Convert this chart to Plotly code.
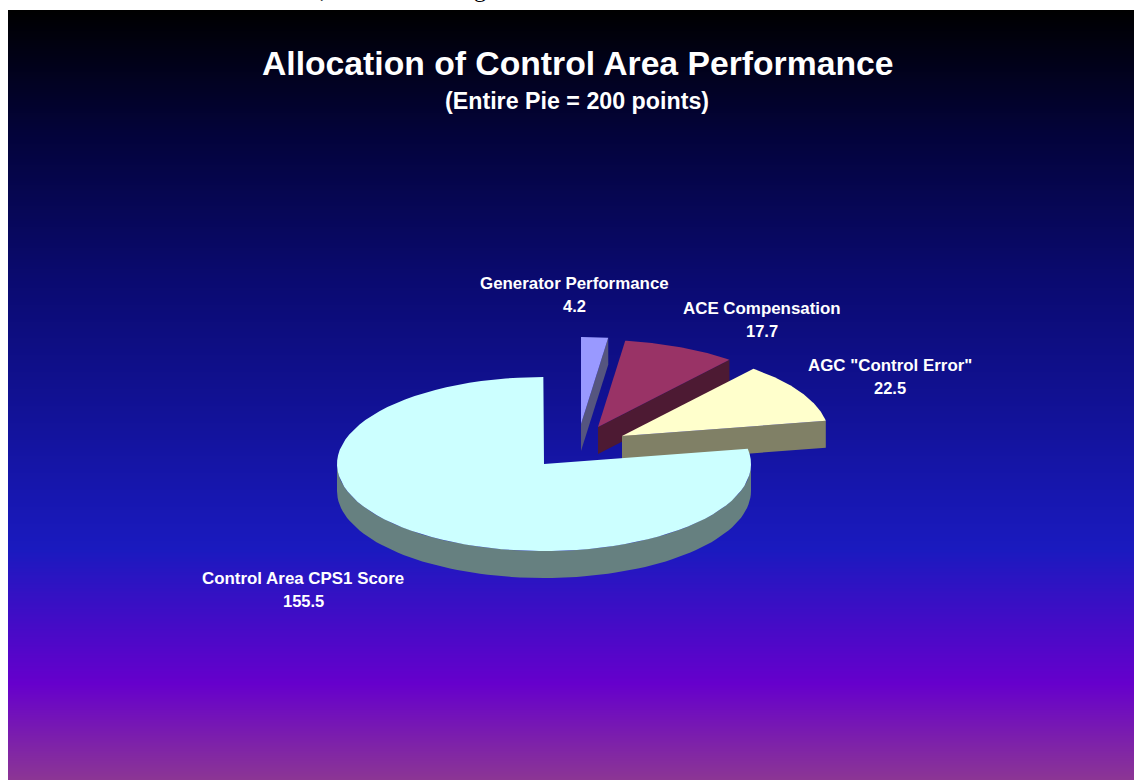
import plotly.graph_objects as go
import math

# ---- data -------------------------------------------------------------
slice_labels = ["Generator Performance", "ACE Compensation", 'AGC "Control Error"', "Control Area CPS1 Score"]
slice_values = [4.2, 17.7, 22.5, 155.5]
pie_total = 200
title_text = "Allocation of Control Area Performance"
subtitle_text = "(Entire Pie = 200 points)"
clipped_text = [",", "g"]

# ---- style ------------------------------------------------------------
W, H = 1134, 780
top_colors = ["#9999FF", "#993366", "#FFFFCC", "#CCFFFF"]
side_colors = ["#55557F", "#4D1A33", "#808066", "#668080"]
apex_x = [581, 598, 622, 544]
apex_y = [424, 427, 436, 464]
RX, RY, DEPTH = 207, 87, 27
label_x = [574, 762, 890, 303]
label_y = [283, 308, 365, 578]
clipped_x = [323, 480]
LINE_GAP = 23
grad_pos = [0.0, 0.16, 0.35, 0.70, 0.875, 1.0]
grad_col = ["#000000", "#03033A", "#0A0A70", "#1A1ABF", "#6600CC", "#8C3694"]
GRAD_TOP, GRAD_LEFT = 10, 8

fig = go.Figure()

# gradient background
edges = list(range(GRAD_TOP, H + 1))
fig.add_trace(go.Heatmap(
    x=[GRAD_LEFT, W], y=edges,
    z=[[(r + 0.5 - GRAD_TOP) / (H - GRAD_TOP)] for r in edges[:-1]],
    colorscale=[[p, c] for p, c in zip(grad_pos, grad_col)],
    zmin=0, zmax=1, showscale=False, hoverinfo="skip",
))

def arc(cx, cy, a0, a1, dy=0, n=80):
    pts = [a0 + (a1 - a0) * i / n for i in range(n + 1)]
    return ([cx + RX * math.sin(t) for t in pts],
            [cy - RY * math.cos(t) + dy for t in pts])

start = 0.0
for i, v in enumerate(slice_values):
    end = start + v / pie_total * 2 * math.pi
    cx, cy = apex_x[i], apex_y[i]
    ax, ay = arc(cx, cy, start, end)
    # side: end radial wall, plus the front-facing part of the rim
    sx = [cx, ax[-1], ax[-1], cx, cx]
    sy = [cy, ay[-1], ay[-1] + DEPTH, cy + DEPTH, cy]
    f0, f1 = max(start, math.pi / 2), min(end, 3 * math.pi / 2)
    if f1 > f0:
        tx, ty = arc(cx, cy, f0, f1)
        bx, by = arc(cx, cy, f0, f1, DEPTH)
        sx += [None] + tx + bx[::-1] + [tx[0]]
        sy += [None] + ty + by[::-1] + [ty[0]]
    fig.add_trace(go.Scatter(x=sx, y=sy, mode="lines", fill="toself",
                             fillcolor=side_colors[i], line=dict(width=0),
                             hoverinfo="skip", showlegend=False))
    fig.add_trace(go.Scatter(x=[cx] + ax + [cx], y=[cy] + ay + [cy], mode="lines",
                             fill="toself", fillcolor=top_colors[i], line=dict(width=0),
                             name=slice_labels[i], showlegend=False,
                             hovertemplate=f"{slice_labels[i]}: {v}<extra></extra>"))
    start = end

font = "Liberation Sans, Arial, sans-serif"
def txt(x, y, s, size):
    fig.add_annotation(x=x, y=y, text=f"<b>{s}</b>", showarrow=False, xref="x", yref="y",
                       xanchor="center", yanchor="middle",
                       font=dict(family=font, size=size, color="white"))

txt(577, 63, title_text, 33.7)
txt(577, 101, subtitle_text, 20 * 265 / 228)
for i, v in enumerate(slice_values):
    txt(label_x[i], label_y[i], slice_labels[i], 16.9)
    txt(label_x[i], label_y[i] + LINE_GAP, str(v), 16.5)

for s, x in zip(clipped_text, clipped_x):
    fig.add_annotation(x=x, y=1, xref="x", yref="paper", text=s, showarrow=False,
                       xanchor="center", yanchor="bottom", yshift=-4,
                       font=dict(family="Liberation Serif, serif", size=24, color="black"))

fig.update_layout(
    width=W, height=H, margin=dict(l=0, r=0, t=0, b=0, pad=0),
    paper_bgcolor="white", plot_bgcolor="white", showlegend=False,
    xaxis=dict(range=[0, W], visible=False, fixedrange=True),
    yaxis=dict(range=[H, 0], visible=False, fixedrange=True),
)
fig.write_html("out.html", config={"displayModeBar": False},
               post_script="document.body.style.margin='0';document.body.style.overflow='hidden';")
